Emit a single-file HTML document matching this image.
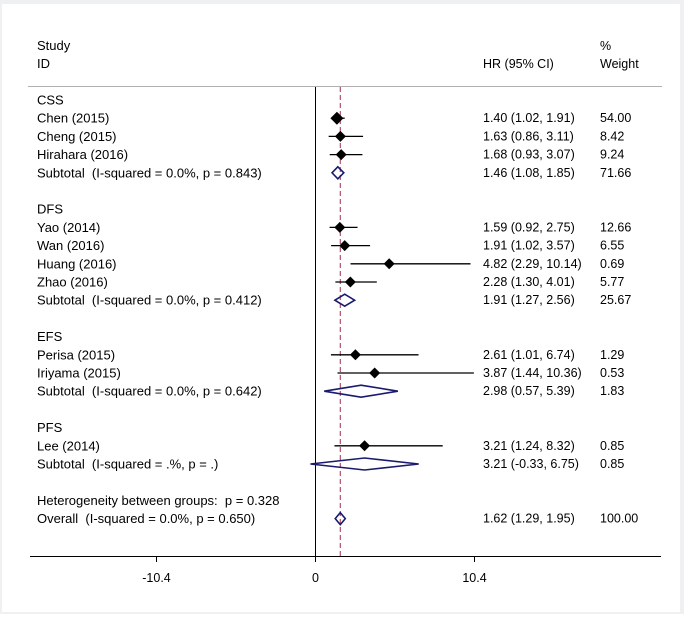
<!DOCTYPE html>
<html><head><meta charset="utf-8"><style>
body{margin:0;background:#fff}
svg text{font-family:"Liberation Sans",Arial,sans-serif;font-size:12.5px;fill:#000;white-space:pre}
svg text.lab{font-size:13px;word-spacing:0px}
</style></head><body>
<svg id="c" width="684" height="614">
<rect x="0" y="0" width="684" height="614" fill="#eef0f2"/>
<rect x="2" y="4" width="678" height="608" fill="#fff"/>
<text class="lab" x="37" y="50">Study</text>
<text class="lab" x="37" y="68">ID</text>
<text x="483" y="68">HR (95% CI)</text>
<text x="600" y="50">%</text>
<text x="600" y="68">Weight</text>
<line x1="28" y1="86.5" x2="662" y2="86.5" stroke="#b0b0b0"/>
<g id="g"></g>
</svg>
<script>
const labels=["CSS","Chen (2015)","Cheng (2015)","Hirahara (2016)","Subtotal  (I-squared = 0.0%, p = 0.843)","","DFS","Yao (2014)","Wan (2016)","Huang (2016)","Zhao (2016)","Subtotal  (I-squared = 0.0%, p = 0.412)","","EFS","Perisa (2015)","Iriyama (2015)","Subtotal  (I-squared = 0.0%, p = 0.642)","","PFS","Lee (2014)","Subtotal  (I-squared = .%, p = .)","","Heterogeneity between groups:  p = 0.328","Overall  (I-squared = 0.0%, p = 0.650)"];
const kinds=["h","s","s","s","d","","h","s","s","s","s","d","","h","s","s","d","","h","s","d","","h","d"];
const hr=[null,1.40,1.63,1.68,1.46,null,null,1.59,1.91,4.82,2.28,1.91,null,null,2.61,3.87,2.98,null,null,3.21,3.21,null,null,1.62];
const lo=[null,1.02,0.86,0.93,1.08,null,null,0.92,1.02,2.29,1.30,1.27,null,null,1.01,1.44,0.57,null,null,1.24,-0.33,null,null,1.29];
const hi=[null,1.91,3.11,3.07,1.85,null,null,2.75,3.57,10.14,4.01,2.56,null,null,6.74,10.36,5.39,null,null,8.32,6.75,null,null,1.95];
const weights=[null,54.00,8.42,9.24,71.66,null,null,12.66,6.55,0.69,5.77,25.67,null,null,1.29,0.53,1.83,null,null,0.85,0.85,null,null,100.00];
const ticks=[-10.4,0,10.4];
const overall=1.62;
const X=v=>315.5+v*(159/10.4);
const Y=i=>100+i*18.2;
const g=document.getElementById('g');
const NS="http://www.w3.org/2000/svg";
function mk(t,a,txt){const e=document.createElementNS(NS,t);for(const k in a)e.setAttribute(k,a[k]);if(txt!=null)e.textContent=txt;g.appendChild(e);return e;}
let e=mk('line',{x1:315.5,y1:87,x2:315.5,y2:556,stroke:'#000'});


e=mk('line',{x1:X(overall),y1:87,x2:X(overall),y2:556,stroke:'#a03050','stroke-dasharray':'5,3'});


e=mk('line',{x1:30,y1:556.5,x2:661,y2:556.5,stroke:'#000'});


ticks.forEach(t=>{
 let l=mk('line',{x1:X(t),y1:556,x2:X(t),y2:562,stroke:'#000'});
 
 
 let tx=mk('text',{x:X(t),y:582,'text-anchor':'middle'},String(t));
 
 
});
labels.forEach((lab,i)=>{
 const y=Y(i);
 if(lab){let t=mk('text',{x:37,y:y+4.5,'class':'lab'},lab);
  
  }
 if(hr[i]==null)return;
 const ci=hr[i].toFixed(2)+" ("+lo[i].toFixed(2)+", "+hi[i].toFixed(2)+")";
 let t=mk('text',{x:483,y:y+4},ci);
 
 
 t=mk('text',{x:600,y:y+4},weights[i].toFixed(2));
 
 
 if(kinds[i]=='s'){
  let l=mk('line',{x1:X(lo[i]),y1:y,x2:X(hi[i]),y2:y,stroke:'#000','stroke-width':1.3});
  
  
  const r=weights[i]>50?6.5:5.5;const cx=X(hr[i]);
  let p=mk('polygon',{points:`${cx-r},${y} ${cx},${y-r} ${cx+r},${y} ${cx},${y+r}`,fill:'#000'});
  
  
 }else{
  const h=6;
  let p=mk('polygon',{points:`${X(lo[i])},${y} ${X(hr[i])},${y-h} ${X(hi[i])},${y} ${X(hr[i])},${y+h}`,fill:'none',stroke:'#1a1a6e','stroke-width':1.6});
  
  
 }
});
</script>
</body></html>
